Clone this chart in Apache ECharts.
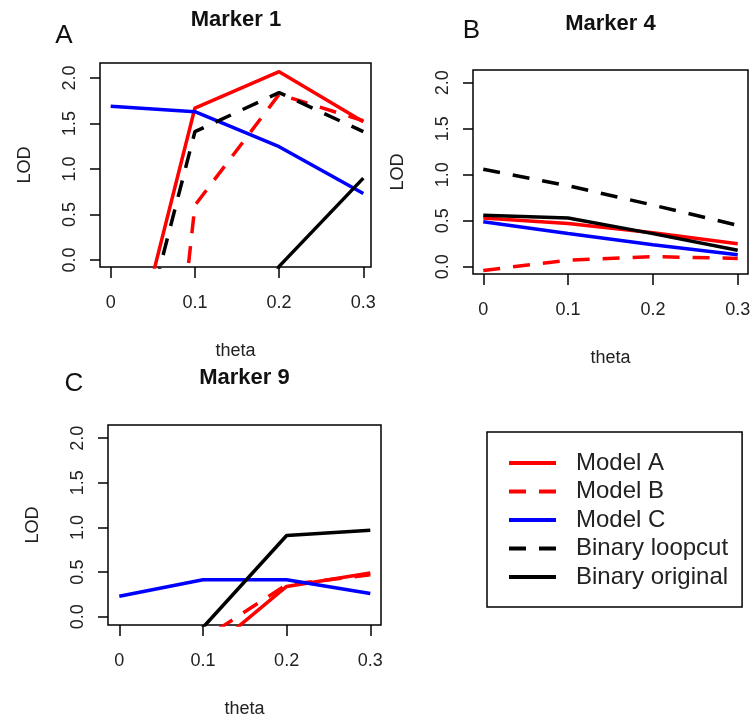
<!DOCTYPE html>
<html>
<head>
<meta charset="utf-8">
<script src="https://cdn.jsdelivr.net/npm/echarts@6/dist/echarts.min.js"></script>
<style>html,body{margin:0;padding:0;background:#fff;}#chart{width:754px;height:719px;}</style>
</head>
<body>
<div id="chart"></div>
<script>
// ---- data ----
var thetas = [0, 0.1, 0.2, 0.3];
var xTicks = [0, 0.1, 0.2, 0.3];
var xTickLabels = ['0', '0.1', '0.2', '0.3'];
var yTicks = [0, 0.5, 1, 1.5, 2];
var yTickLabels = ['0.0', '0.5', '1.0', '1.5', '2.0'];
var seriesNames = ['Model A', 'Model B', 'Model C', 'Binary loopcut', 'Binary original'];
var panelTitles = ['Marker 1', 'Marker 4', 'Marker 9'];
var panelLetters = ['A', 'B', 'C'];

// Marker 1 (LOD by theta)
var m1_modelA   = [-2.0, 1.67, 2.07, 1.52];
var m1_modelB   = [-7.9, 0.60, 1.82, 1.53];
var m1_modelC   = [1.69, 1.63, 1.245, 0.73];
var m1_loopcut  = [-2.18, 1.41, 1.84, 1.41];
var m1_original = [-5.0, -2.5, -0.07, 0.90];
// Marker 4
var m4_modelA   = [0.53, 0.47, 0.37, 0.25];
var m4_modelB   = [-0.04, 0.07, 0.11, 0.09];
var m4_modelC   = [0.49, 0.36, 0.24, 0.13];
var m4_loopcut  = [1.06, 0.88, 0.67, 0.45];
var m4_original = [0.56, 0.53, 0.36, 0.18];
// Marker 9
var m9_modelA   = [-1.0, -0.44, 0.34, 0.49];
var m9_modelB   = [-0.9, -0.25, 0.36, 0.47];
var m9_modelC   = [0.23, 0.415, 0.415, 0.26];
var m9_loopcut  = [null, null, null, null]; // not visible in this panel
var m9_original = [-1.2, -0.12, 0.91, 0.97];

var panelData = [
  [m1_modelA, m1_modelB, m1_modelC, m1_loopcut, m1_original],
  [m4_modelA, m4_modelB, m4_modelC, m4_loopcut, m4_original],
  [m9_modelA, m9_modelB, m9_modelC, m9_loopcut, m9_original]
];

// ---- styles / layout ----
var FONT = 'Liberation Sans, Arial, sans-serif';
var seriesStyles = [
  {color: '#ff0000', type: 'solid'},
  {color: '#ff0000', type: [17, 13]},
  {color: '#0000ff', type: 'solid'},
  {color: '#000000', type: [17, 13]},
  {color: '#000000', type: 'solid'}
];
var grids = [
  {left: 100, top: 63, width: 271, height: 204, xmin: -0.0127, xmax: 0.3091, ymin: -0.077, ymax: 2.165},
  {left: 473, top: 70, width: 275, height: 204, xmin: -0.0121, xmax: 0.3121, ymin: -0.079, ymax: 2.138},
  {left: 108, top: 425, width: 273, height: 202.6, xmin: -0.0135, xmax: 0.3128, ymin: -0.092, ymax: 2.147}
];
var titlePos = [[236, 20], [610.5, 23.5], [244.5, 378]];
var letterPos = [[64, 36], [471.5, 31], [74, 384]];

function idxOf(arr, v) {
  for (var i = 0; i < arr.length; i++) if (Math.abs(arr[i] - v) < 1e-9) return i;
  return -1;
}

var option = {
  animation: false,
  backgroundColor: '#ffffff',
  grid: [], xAxis: [], yAxis: [], series: [], graphic: [],
  legend: {
    orient: 'vertical', left: 487, top: 432,
    data: seriesNames, selectedMode: false,
    itemWidth: 47, itemHeight: 14, itemGap: 4.5,
    padding: [19, 14, 18, 20],
    borderColor: '#000', borderWidth: 1.5, backgroundColor: '#fff',
    itemStyle: {color: 'transparent', borderColor: 'transparent', borderWidth: 0, opacity: 0},
    lineStyle: {width: 4},
    textStyle: {fontFamily: FONT, fontSize: 24, color: '#222', lineHeight: 24, padding: [0, 0, 0, 15]}
  }
};

grids.forEach(function (g, p) {
  option.grid.push({left: g.left, top: g.top, width: g.width, height: g.height,
    show: true, borderColor: '#000', borderWidth: 1.5, backgroundColor: 'transparent', containLabel: false});
  option.xAxis.push({
    type: 'value', gridIndex: p, min: g.xmin, max: g.xmax, position: 'bottom',
    name: 'theta', nameLocation: 'middle', nameGap: 75,
    nameTextStyle: {fontFamily: FONT, fontSize: 18, color: '#222'},
    axisLine: {show: false, onZero: false}, splitLine: {show: false},
    axisTick: {show: true, inside: false, length: 11, customValues: xTicks, lineStyle: {color: '#000', width: 1.5}},
    axisLabel: {show: true, margin: 27, customValues: xTicks, fontFamily: FONT, fontSize: 18, color: '#222',
      formatter: function (v) { var i = idxOf(xTicks, v); return i >= 0 ? xTickLabels[i] : ''; }}
  });
  option.yAxis.push({
    type: 'value', gridIndex: p, min: g.ymin, max: g.ymax, position: 'left',
    name: 'LOD', nameLocation: 'middle', nameGap: 66,
    nameTextStyle: {fontFamily: FONT, fontSize: 18, color: '#222'},
    axisLine: {show: false, onZero: false}, splitLine: {show: false},
    axisTick: {show: true, inside: false, length: 10, customValues: yTicks, lineStyle: {color: '#000', width: 1.5}},
    axisLabel: {show: true, rotate: 90, margin: 21, customValues: yTicks, fontFamily: FONT, fontSize: 18, color: '#222',
      formatter: function (v) { var i = idxOf(yTicks, v); return i >= 0 ? yTickLabels[i] : ''; }}
  });
  panelData[p].forEach(function (vals, s) {
    option.series.push({
      type: 'line', name: seriesNames[s], xAxisIndex: p, yAxisIndex: p,
      data: thetas.map(function (t, k) { return [t, vals[k]]; }),
      symbol: 'none', showSymbol: false, clip: true, connectNulls: false,
      color: seriesStyles[s].color,
      lineStyle: {color: seriesStyles[s].color, width: 3.5, type: seriesStyles[s].type},
      itemStyle: {color: seriesStyles[s].color},
      z: 2 + s
    });
  });
  option.graphic.push({type: 'text', x: titlePos[p][0], y: titlePos[p][1], z: 10,
    style: {text: panelTitles[p], fontFamily: FONT, fontSize: 22, fontWeight: 'bold', fill: '#111', align: 'center', verticalAlign: 'middle'}});
  option.graphic.push({type: 'text', x: letterPos[p][0], y: letterPos[p][1], z: 10,
    style: {text: panelLetters[p], fontFamily: FONT, fontSize: 26, fill: '#111', align: 'center', verticalAlign: 'middle'}});
});

var chart = echarts.init(document.getElementById('chart'), null, {renderer: 'canvas'});
chart.setOption(option);
</script>
</body>
</html>
